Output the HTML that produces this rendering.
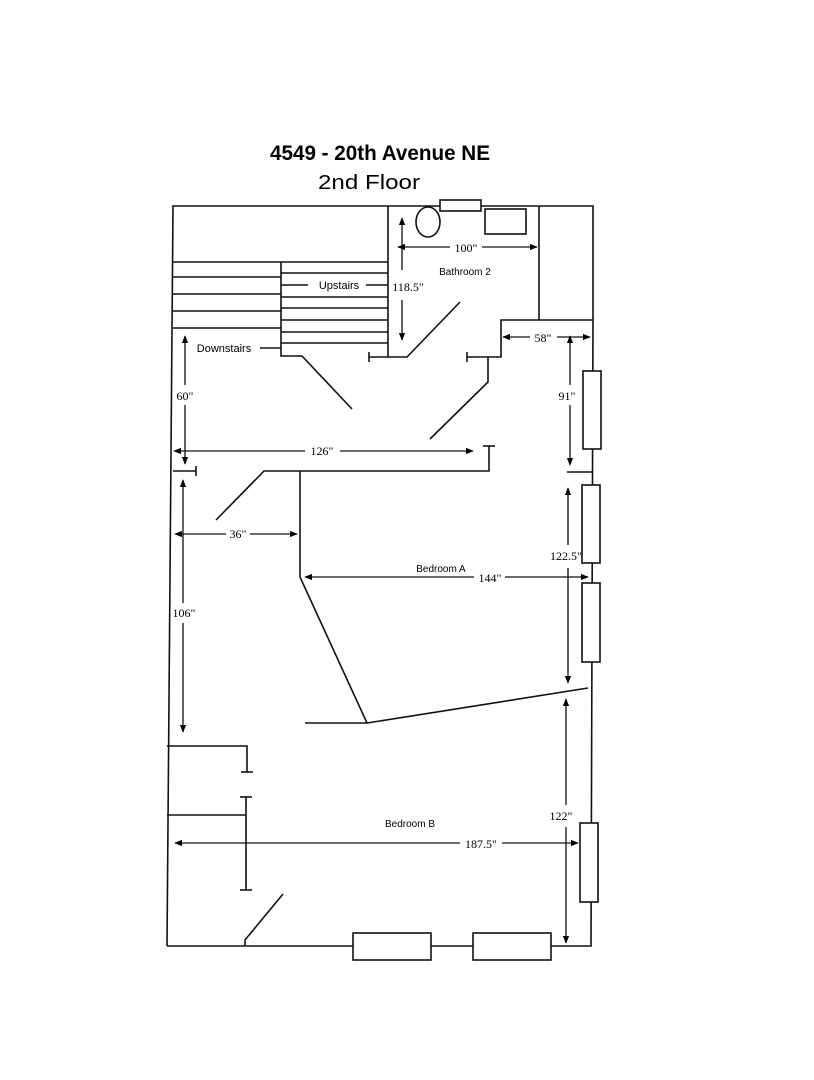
<!DOCTYPE html>
<html><head><style>body{margin:0;background:#fff}svg{display:block}</style></head><body>
<svg width="814" height="1080" viewBox="0 0 814 1080" xmlns="http://www.w3.org/2000/svg" font-family="Liberation Sans, sans-serif">
<defs><marker id="a" viewBox="0 0 10 10" refX="9" refY="5" markerWidth="6" markerHeight="6" orient="auto-start-reverse"><path d="M0,1L10,5L0,9z" fill="#000"/></marker></defs>
<text x="270" y="160" font-size="21" font-weight="bold" textLength="220" lengthAdjust="spacingAndGlyphs">4549 - 20th Avenue NE</text>
<text x="318" y="189" font-size="20" textLength="102" lengthAdjust="spacingAndGlyphs">2nd Floor</text>
<g stroke="#111" stroke-width="1.6" fill="none">
<polyline points="167,946 173,206 593,206 593,320 591,946 167,946"/>
<rect x="440" y="200" width="41" height="11" fill="#fff"/>
<ellipse cx="428" cy="222" rx="12" ry="15"/>
<rect x="485" y="209" width="41" height="25"/>
<polyline points="388,206 388,357 407,357 460,302"/>
<polyline points="369,357 388,357"/><line x1="369" y1="352" x2="369" y2="362"/>
<line x1="539" y1="206" x2="539" y2="320"/>
<polyline points="593,320 501,320 501,357 467,357"/><line x1="467" y1="352" x2="467" y2="362"/>
<polyline points="488,357 488,382 430,439"/>
<line x1="173" y1="262" x2="388" y2="262"/>
<line x1="173" y1="277" x2="281" y2="277"/><line x1="173" y1="294" x2="281" y2="294"/>
<line x1="173" y1="311" x2="281" y2="311"/><line x1="173" y1="328" x2="281" y2="328"/>
<line x1="281" y1="273" x2="388" y2="273"/><line x1="281" y1="297" x2="388" y2="297"/>
<line x1="281" y1="308" x2="388" y2="308"/><line x1="281" y1="320" x2="388" y2="320"/>
<line x1="281" y1="332" x2="388" y2="332"/><line x1="281" y1="343" x2="388" y2="343"/>
<line x1="281" y1="285" x2="308" y2="285"/><line x1="366" y1="285" x2="388" y2="285"/>
<polyline points="281,262 281,356 302,356 352,409"/>
<line x1="260" y1="348" x2="281" y2="348"/>
<polyline points="173,471 196,471"/><line x1="196" y1="466" x2="196" y2="476"/>
<polyline points="216,520 264,471 489,471 489,446"/><line x1="483" y1="446" x2="495" y2="446"/>
<line x1="300" y1="471" x2="300" y2="577"/>
<polyline points="300,577 367,723 588,688"/><line x1="305" y1="723" x2="367" y2="723"/>
<line x1="567" y1="472" x2="593" y2="472"/>
<rect x="583" y="371" width="18" height="78" fill="#fff"/>
<rect x="582" y="485" width="18" height="78" fill="#fff"/>
<rect x="582" y="583" width="18" height="79" fill="#fff"/>
<rect x="580" y="823" width="18" height="79" fill="#fff"/>
<rect x="353" y="933" width="78" height="27" fill="#fff"/>
<rect x="473" y="933" width="78" height="27" fill="#fff"/>
<polyline points="167,746 247,746 247,772"/><line x1="241" y1="772" x2="253" y2="772"/>
<line x1="246" y1="797" x2="246" y2="890"/><line x1="240" y1="797" x2="252" y2="797"/><line x1="240" y1="890" x2="252" y2="890"/>
<line x1="167" y1="815" x2="246" y2="815"/>
<polyline points="245,946 245,940 283,894"/>
</g>
<g stroke="#111" stroke-width="1.3" fill="none" marker-start="url(#a)" marker-end="url(#a)">
<line x1="402" y1="270" x2="402" y2="218" marker-start="none"/>
<line x1="402" y1="300" x2="402" y2="340" marker-start="none"/>
<line x1="398" y1="247" x2="450" y2="247" marker-end="none"/>
<line x1="482" y1="247" x2="537" y2="247" marker-start="none"/>
<line x1="503" y1="337" x2="530" y2="337" marker-end="none"/>
<line x1="557" y1="337" x2="590" y2="337" marker-start="none"/>
<line x1="570" y1="385" x2="570" y2="336" marker-start="none"/>
<line x1="570" y1="405" x2="570" y2="465" marker-start="none"/>
<line x1="185" y1="385" x2="185" y2="336" marker-start="none"/>
<line x1="185" y1="405" x2="185" y2="464" marker-start="none"/>
<line x1="174" y1="451" x2="305" y2="451" marker-end="none"/>
<line x1="340" y1="451" x2="473" y2="451" marker-start="none"/>
<line x1="183" y1="603" x2="183" y2="480" marker-start="none"/>
<line x1="183" y1="623" x2="183" y2="732" marker-start="none"/>
<line x1="175" y1="534" x2="226" y2="534" marker-end="none"/>
<line x1="250" y1="534" x2="297" y2="534" marker-start="none"/>
<line x1="305" y1="577" x2="474" y2="577" marker-end="none"/>
<line x1="505" y1="577" x2="588" y2="577" marker-start="none"/>
<line x1="568" y1="545" x2="568" y2="488" marker-start="none"/>
<line x1="568" y1="568" x2="568" y2="683" marker-start="none"/>
<line x1="566" y1="805" x2="566" y2="699" marker-start="none"/>
<line x1="566" y1="827" x2="566" y2="943" marker-start="none"/>
<line x1="175" y1="843" x2="460" y2="843" marker-end="none"/>
<line x1="502" y1="843" x2="578" y2="843" marker-start="none"/>
</g>
<rect x="390" y="279" width="36" height="15" fill="#fff"/>
<g font-family="Liberation Serif, serif" font-size="12" text-anchor="middle">
<text x="466" y="252">100"</text><text x="543" y="342">58"</text>
<text x="408" y="291">118.5"</text>
<text x="567" y="400">91"</text><text x="185" y="400">60"</text>
<text x="322" y="455">126"</text><text x="184" y="617">106"</text>
<text x="238" y="538">36"</text><text x="490" y="582">144"</text>
<text x="566" y="560">122.5"</text><text x="561" y="820">122"</text>
<text x="481" y="848">187.5"</text>
</g>
<g font-size="11" text-anchor="middle">
<text x="339" y="289">Upstairs</text><text x="224" y="352">Downstairs</text>
<text x="465" y="275" font-size="10">Bathroom 2</text>
<text x="441" y="572" font-size="10">Bedroom A</text>
<text x="410" y="827" font-size="10">Bedroom B</text>
</g>
</svg>
</body></html>
